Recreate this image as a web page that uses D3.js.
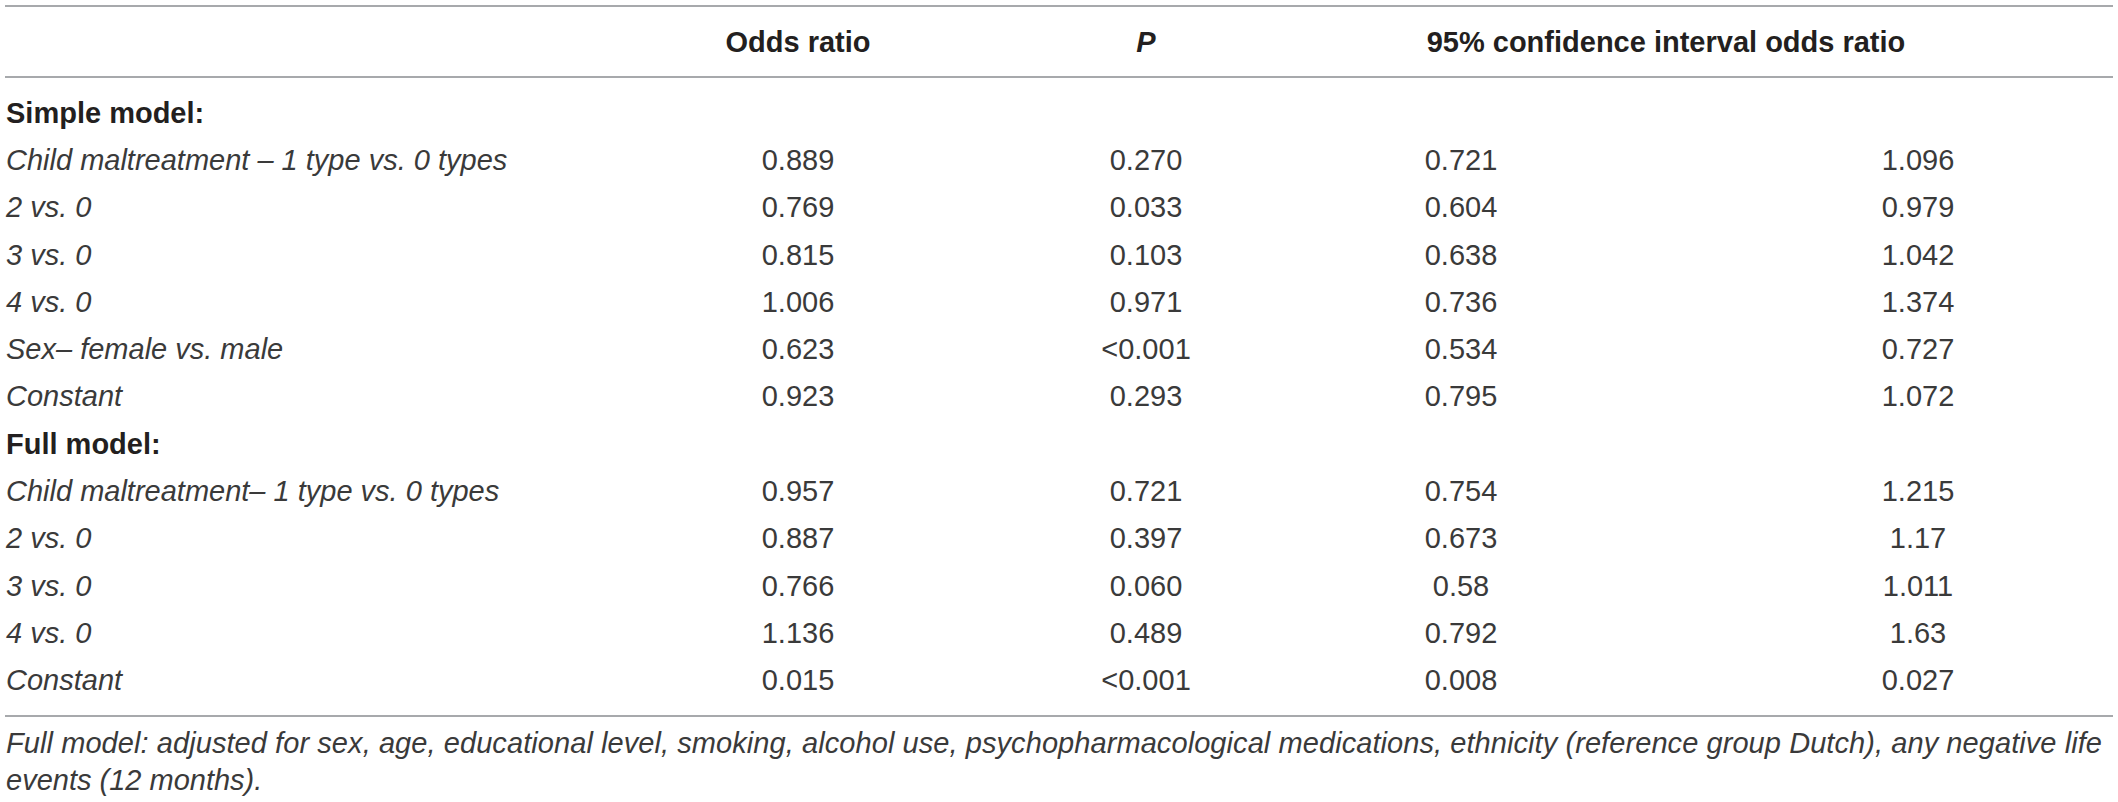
<!DOCTYPE html>
<html>
<head>
<meta charset="utf-8">
<script src="https://cdn.jsdelivr.net/npm/d3@7"></script>
<style>
  html, body { margin: 0; padding: 0; background: #fff; }
  svg { display: block; font-family: "Liberation Sans", Arial, sans-serif; }
  .rule { stroke: #a7a9ac; stroke-width: 2; }
  .head { font-weight: bold; fill: #231f20; }
  .section { font-weight: bold; fill: #231f20; }
  .label { font-style: italic; fill: #3a3a3a; }
  .cell { fill: #3a3a3a; text-anchor: middle; }
  .note { font-style: italic; fill: #3a3a3a; }
</style>
</head>
<body>
<svg id="table"></svg>
<script>
// table contents
const headers = ['Odds ratio', 'P', '95% confidence interval odds ratio'];
const rowLabels = [
  'Simple model:',
  'Child maltreatment \u2013 1 type vs. 0 types',
  '2 vs. 0',
  '3 vs. 0',
  '4 vs. 0',
  'Sex\u2013 female vs. male',
  'Constant',
  'Full model:',
  'Child maltreatment\u2013 1 type vs. 0 types',
  '2 vs. 0',
  '3 vs. 0',
  '4 vs. 0',
  'Constant'
];
const sectionRows = [0, 7];
const oddsRatio = ['', '0.889', '0.769', '0.815', '1.006', '0.623', '0.923', '', '0.957', '0.887', '0.766', '1.136', '0.015'];
const pValues   = ['', '0.270', '0.033', '0.103', '0.971', '<0.001', '0.293', '', '0.721', '0.397', '0.060', '0.489', '<0.001'];
const ciLower   = ['', '0.721', '0.604', '0.638', '0.736', '0.534', '0.795', '', '0.754', '0.673', '0.58', '0.792', '0.008'];
const ciUpper   = ['', '1.096', '0.979', '1.042', '1.374', '0.727', '1.072', '', '1.215', '1.17', '1.011', '1.63', '0.027'];
const footnote = [
  'Full model: adjusted for sex, age, educational level, smoking, alcohol use, psychopharmacological medications, ethnicity (reference group Dutch), any negative life',
  'events (12 months).'
];

const width = 2118, height = 802;
const fontSize = 29;
const svg = d3.select('#table').attr('width', width).attr('height', height)
  .style('font-size', fontSize + 'px');

let left = 5, right = 2113;
let colCenter = [798, 1146, 1461, 1918];
let headerCenter = [798, 1146, 1666];

let rowY = d3.scalePoint()
  .domain(d3.range(rowLabels.length))
  .range([112.5, 680]);

// rules
let rules = [6, 77, 716];
svg.selectAll('line.rule')
  .data(rules)
  .enter()
  .append('line')
  .attr('class', 'rule')
  .attr('x1', left).attr('x2', right)
  .attr('y1', d => d).attr('y2', d => d);

// header
svg.selectAll('text.head')
  .data(headers)
  .enter()
  .append('text')
  .attr('class', 'head')
  .attr('x', (d, i) => headerCenter[i])
  .attr('y', 42)
  .attr('dy', '0.35em')
  .attr('text-anchor', 'middle')
  .style('font-style', d => d === 'P' ? 'italic' : null)
  .text(d => d);

// row labels
svg.selectAll('text.rowlabel')
  .data(rowLabels)
  .enter()
  .append('text')
  .attr('class', (d, i) => sectionRows.includes(i) ? 'rowlabel section' : 'rowlabel label')
  .attr('x', 6)
  .attr('y', (d, i) => rowY(i))
  .attr('dy', '0.35em')
  .text(d => d);

// value cells
let columns = [oddsRatio, pValues, ciLower, ciUpper];
let cells = svg.selectAll('g.col')
  .data(columns)
  .enter()
  .append('g')
  .attr('class', 'col')
  .attr('transform', (d, i) => 'translate(' + colCenter[i] + ',0)');
cells.selectAll('text')
  .data(d => d)
  .enter()
  .append('text')
  .attr('class', 'cell')
  .attr('y', (d, i) => rowY(i))
  .attr('dy', '0.35em')
  .text(d => d);

// footnote, first line justified to the table width
svg.selectAll('text.note')
  .data(footnote)
  .enter()
  .append('text')
  .attr('class', 'note')
  .attr('x', 6)
  .attr('y', (d, i) => 743 + i * 37)
  .attr('dy', '0.35em')
  .attr('textLength', (d, i) => i === 0 ? 2096 : null)
  .attr('lengthAdjust', 'spacing')
  .text(d => d);
</script>
</body>
</html>
